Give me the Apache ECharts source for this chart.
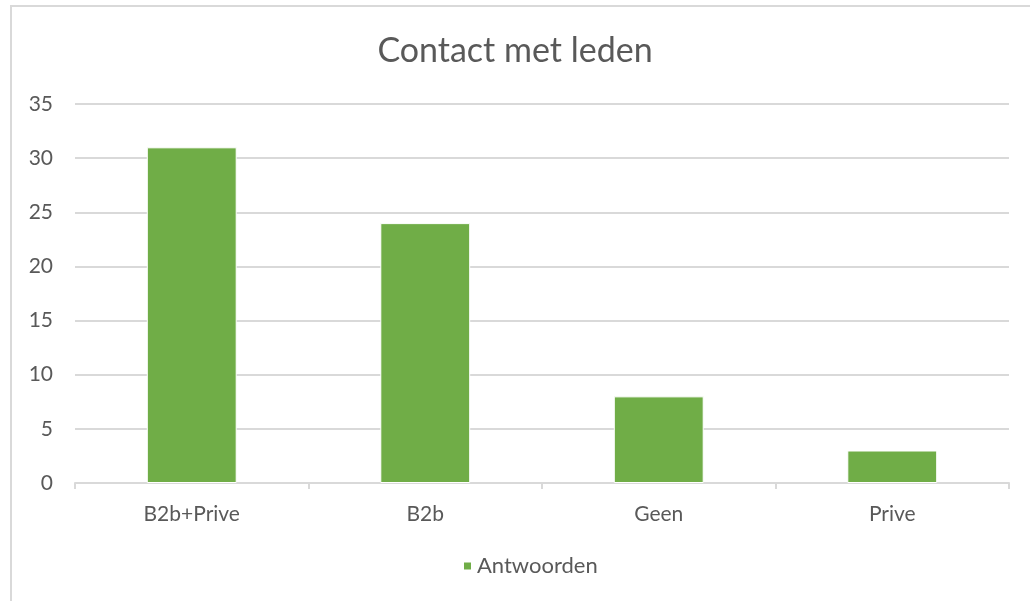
<!DOCTYPE html>
<html>
<head>
<meta charset="utf-8">
<script src="https://cdn.jsdelivr.net/npm/echarts@6/dist/echarts.min.js"></script>
<style>
  html, body { margin: 0; padding: 0; background: #fff; }
  #chart { width: 1030px; height: 601px; }
</style>
</head>
<body>
<div id="chart"></div>
<script>
// data
const categories = ['B2b+Prive', 'B2b', 'Geen', 'Prive']
const answers = [31, 24, 8, 3]
const seriesName = 'Antwoorden'

const textColor = '#595959'
const lineColor = '#d9d9d9'
const fontFamily = 'Lato, "Open Sans", sans-serif'

let myChart = echarts.init(document.getElementById('chart'), null, { renderer: 'canvas' })

myChart.setOption({
  backgroundColor: '#fff',
  animation: false,
  textStyle: { fontFamily },
  title: {
    text: 'Contact met leden',
    left: 'center',
    top: 29,
    textStyle: { color: textColor, fontSize: 34, fontWeight: 'normal', fontFamily }
  },
  // outer chart border, partly out of frame
  graphic: [{
    type: 'rect',
    shape: { x: 11, y: 6, width: 1040, height: 620 },
    style: { fill: 'none', stroke: lineColor, lineWidth: 2 },
    silent: true
  }],
  legend: {
    data: [seriesName],
    bottom: 19,
    left: 457,
    itemWidth: 9,
    itemHeight: 9,
    icon: 'rect',
    itemGap: 6,
    textStyle: { color: textColor, fontSize: 22, fontFamily }
  },
  grid: {
    left: 75,
    right: 21,
    top: 104,
    bottom: 118,
    containLabel: false
  },
  xAxis: {
    type: 'category',
    data: categories,
    axisLine: { lineStyle: { color: lineColor, width: 2 } },
    axisTick: { show: true, length: 6, lineStyle: { color: lineColor, width: 2 } },
    axisLabel: { color: textColor, fontSize: 21, margin: 21, fontFamily }
  },
  yAxis: {
    type: 'value',
    min: 0,
    max: 35,
    interval: 5,
    axisLine: { show: false },
    axisTick: { show: false },
    axisLabel: { color: textColor, fontSize: 21, margin: 22, fontFamily },
    splitLine: { lineStyle: { color: lineColor, width: 2 } }
  },
  series: [{
    name: seriesName,
    type: 'bar',
    data: answers,
    barWidth: '38.5%',
    itemStyle: { color: '#70ad47', borderColor: '#fff', borderWidth: 1 }
  }]
})
</script>
</body>
</html>
